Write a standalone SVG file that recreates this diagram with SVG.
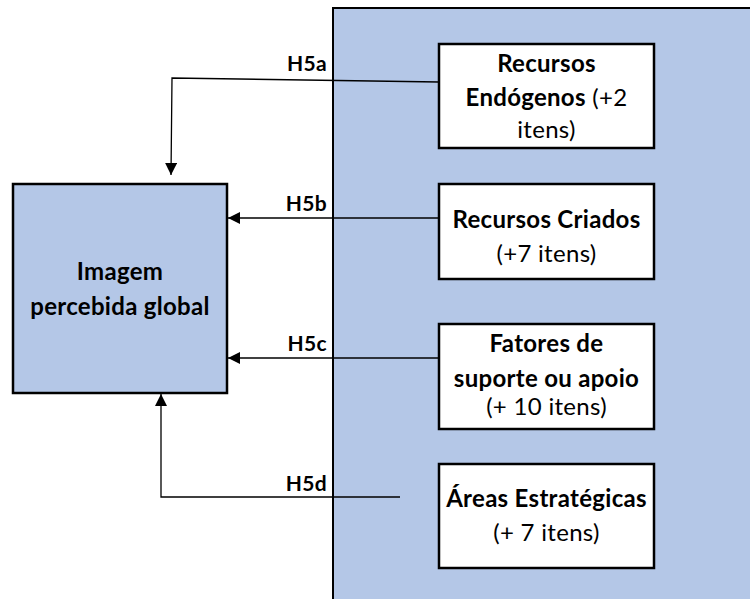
<svg xmlns="http://www.w3.org/2000/svg" width="750" height="599" viewBox="0 0 750 599">
  <defs>
    <style>
      .panel { fill: #b4c7e7; stroke: #000; stroke-width: 2; }
      .box { fill: #ffffff; stroke: #000; stroke-width: 2.5; }
      .main { fill: #b4c7e7; stroke: #000; stroke-width: 2.5; }
      .txt { font-family: Lato, "Liberation Sans", sans-serif; font-size: 24px; letter-spacing: 0.3px; fill: #000; text-anchor: middle; }
      .b { font-weight: bold; }
      .lbl { font-family: Lato, "Liberation Sans", sans-serif; font-size: 21px; letter-spacing: 0.3px; font-weight: bold; fill: #000; text-anchor: end; }
      .link { fill: none; stroke: #000; stroke-width: 1.3; }
    </style>
    <marker id="arrow" viewBox="0 0 12 12" refX="12" refY="6" markerWidth="12" markerHeight="12" markerUnits="userSpaceOnUse" orient="auto">
      <path d="M0,0 L12,6 L0,12 Z" fill="#000"/>
    </marker>
  </defs>

  <rect width="750" height="599" fill="#ffffff"/>

  <!-- background panel holding the four factor groups -->
  <path class="panel" d="M333,600 L333,8 L752,8 L752,600 Z"/>

  <!-- connectors -->
  <g id="connectors">
    <path class="link" d="M439,82 L172,78 L171,175" marker-end="url(#arrow)"/>
    <path class="link" d="M439,218 L228,218" marker-end="url(#arrow)"/>
    <path class="link" d="M439,358 L228,358" marker-end="url(#arrow)"/>
    <path class="link" d="M400,497 L161,497 L161,394" marker-end="url(#arrow)"/>
    <text class="lbl" x="327" y="71">H5a</text>
    <text class="lbl" x="327" y="211">H5b</text>
    <text class="lbl" x="327" y="351">H5c</text>
    <text class="lbl" x="327" y="491">H5d</text>
  </g>

  <g id="imagem-global">
    <rect class="main" x="13" y="184" width="214" height="209"/>
    <text class="txt b" x="120" y="280">Imagem</text>
    <text class="txt b" x="120" y="315">percebida global</text>
  </g>

  <g id="recursos-endogenos">
    <rect class="box" x="439" y="44" width="215" height="104"/>
    <text class="txt b" x="546.5" y="72">Recursos</text>
    <text class="txt" x="546.5" y="106"><tspan class="b">Endógenos</tspan> (+2</text>
    <text class="txt" x="546.5" y="138">itens)</text>
  </g>

  <g id="recursos-criados">
    <rect class="box" x="439" y="184" width="215" height="95"/>
    <text class="txt b" x="546.5" y="228">Recursos Criados</text>
    <text class="txt" x="546.5" y="262">(+7 itens)</text>
  </g>

  <g id="fatores-suporte">
    <rect class="box" x="439" y="324" width="215" height="105"/>
    <text class="txt b" x="546.5" y="352">Fatores de</text>
    <text class="txt b" x="546.5" y="387">suporte ou apoio</text>
    <text class="txt" x="546.5" y="415">(+ 10 itens)</text>
  </g>

  <g id="areas-estrategicas">
    <rect class="box" x="439" y="464" width="215" height="104"/>
    <text class="txt b" x="546.5" y="507">Áreas Estratégicas</text>
    <text class="txt" x="546.5" y="541">(+ 7 itens)</text>
  </g>
</svg>
